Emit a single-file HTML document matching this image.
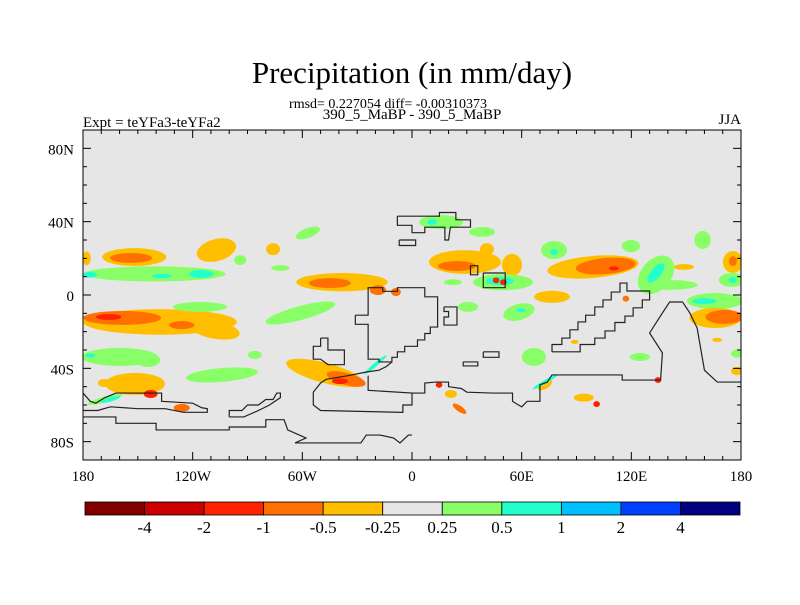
<!DOCTYPE html>
<html><head><meta charset="utf-8"><style>
body{margin:0;background:#fff;}
svg text{font-family:"Liberation Serif",serif;fill:#000;}
</style></head><body>
<svg id="chart" width="800" height="600" viewBox="0 0 800 600" xmlns="http://www.w3.org/2000/svg">
<rect width="800" height="600" fill="#fff"/>
<text x="412" y="83" font-size="31" text-anchor="middle">Precipitation (in mm/day)</text>
<text x="388" y="108" font-size="14" text-anchor="middle">rmsd= 0.227054 diff= -0.00310373</text>
<text x="412" y="119" font-size="15" text-anchor="middle">390_5_MaBP - 390_5_MaBP</text>
<text x="83" y="127" font-size="15">Expt = teYFa3-teYFa2</text>
<text x="741" y="124" font-size="15" text-anchor="end">JJA</text>
<defs><clipPath id="plotclip"><rect x="83" y="130" width="658" height="330"/></clipPath></defs>
<rect x="83" y="130" width="658" height="330" fill="#e6e6e6"/>
<g id="blobs" clip-path="url(#plotclip)"></g>
<g id="coast" clip-path="url(#plotclip)"></g>
<g id="ticks"></g>
<rect x="83" y="130" width="658" height="330" fill="none" stroke="#000" stroke-width="1"/>
<g id="colorbar"></g>
</svg>
<script>
const levelColors = ["#800000","#cc0000","#ff2200","#ff7000","#ffbf00","#e6e6e6","#88ff66","#22ffcc","#00bfff","#0040ff","#000080"];
const levelLabels = ["-4","-2","-1","-0.5","-0.25","0.25","0.5","1","2","4"];
const lonTicks = [-180,-120,-60,0,60,120,180];
const lonTickLabels = ["180","120W","60W","0","60E","120E","180"];
const latTicks = [80,40,0,-40,-80];
const latTickLabels = ["80N","40N","0","40S","80S"];
// anomaly blobs: lon, lat, radius lon, radius lat, level index, rotation
const blobLon = [-152,-178,-141,-107,-57,-76,-94,-72,-38.3,-137.8,-107.8,-116,-61,-160,-144.4,-104,-86,-151.5,-168.5,-47.6,-126,-168,15.9,38.3,41,29,54.7,49.8,22.4,76.6,58.5,30.6,77.7,99,119.8,133.5,141,148.8,159,175.6,175,165.7,166,66.7,124.7,177.8,177.8,72.7,94,21.3,89,167,-18.6,
 -153.7,-115.4,-176,-136.8,-45,-158.6,-126,-176,-36,-143,-165,11,24.6,48,106,133.5,175.6,175.3,160,171,77.7,59.5,-20,72.7,26,
 -166,-39.4,-21,-8.8,101,110.5,14.8,134.6,50,46,117];
const blobLat = [20.7,20,11.5,24.5,33.8,25,19,14.7,7,-14.7,-19,-6.5,-9.8,-33.8,-35.5,-43.6,-32.7,-48.5,-48,-42.5,-61.6,-57,39.8,34.4,25,18,16.4,7,7,-1,-9.3,-6.5,24.5,15.3,26.7,11,5.5,15.3,30,18,8.2,-3.3,-12.5,-33.8,-33.8,-32,-41.5,-49,-56,-54,-25.6,-24.5,2.7,
 20.2,11.5,11,10.4,6.5,-12.5,-16.4,-33,-45.8,-54,-57,39.8,15.8,7.6,15.8,12,18.5,8.2,-3.3,-12,23.5,-8.3,-38,-47.5,-62,
 -12,-47,2.2,1.6,-59.5,14.5,-49,-46.4,7,8,-2];
const blobRx = [17.5,2.2,39,11,7,3.8,3.3,5,25,42,13.7,14.8,19.7,20.8,6.6,19.7,3.8,16.4,3.3,21.9,4.4,9.8,12,7.1,3.8,19.7,5.5,16.4,5,9.8,8.8,5.5,7.1,25,5,12,15.3,5.5,4.4,5.5,7.1,15.3,14.2,6.6,5.5,3.3,3.3,4.4,5.5,3.3,2.2,2.7,4.4,
 11.5,6.6,3.8,5.5,11.5,21.3,7,2.7,11,3.8,5.5,2.7,10.4,7.7,16.4,6.6,2.2,2.2,6.6,10.4,2.2,2.7,8,7.7,4.4,
 7,4.4,2,2.7,1.8,2.7,1.8,1.8,1.8,1.8,1.8];
const blobRy = [4.9,3.8,4.1,6,2.7,3.3,2.7,1.6,5,7,4.9,2.7,3.8,4.9,3.8,3.8,2.2,6,2.2,5.5,2.2,1.6,3.8,2.7,3.3,6.5,6,4.4,1.6,3.3,4.4,2.7,4.9,6,3.3,8.2,2.7,1.6,4.9,6,3.8,4.4,5.5,4.9,2.2,2.2,2.2,2.2,2.2,2.2,1.1,1.1,2.7,
 2.7,2.2,1.6,1.1,2.7,3.8,2.2,1.1,3.3,2.2,1.1,1.6,2.7,2.2,4.4,2.7,2.7,1.6,1.6,3.8,1.6,1.1,1,1,1.6,
 1.6,1.6,1.6,2.2,1.6,1.1,1.6,1.6,1.6,1.6,1.6];
const blobLevel = [4,4,6,4,6,4,6,6,4,4,4,6,6,6,6,6,6,4,4,4,3,6,6,6,4,4,4,6,6,4,6,6,6,4,6,6,6,4,6,4,6,6,4,6,6,6,4,4,4,4,4,4,3,
 3,7,7,7,3,3,3,7,3,2,7,7,3,7,3,7,3,7,7,3,7,7,7,7,3,
 2,2,3,3,2,2,2,2,2,2,3];
const blobRot = [0,0,0,-15,-20,0,0,0,0,0,10,0,-15,0,0,-5,0,0,0,15,0,-15,0,0,0,0,0,0,0,0,-15,0,0,-5,0,-50,0,0,0,0,0,0,0,0,0,0,0,-30,0,0,0,0,0,
 0,0,0,0,0,0,0,0,15,0,-15,0,0,0,-5,-50,0,0,0,0,0,0,-40,-30,35,
 0,0,0,0,0,0,0,0,0,0,0];
// coastlines (lon, lat) polylines
const coastLines = [
 [[-8,43],[15,43],[15,45],[24,45],[24,41],[32,41],[32,37],[21,37],[20,30],[18,30],[18,37],[7,37],[7,34],[0,34],[0,38],[-8,38],[-8,43]],
 [[-7,30],[2,30],[2,27],[-7,27],[-7,30]],
 [[32,16],[36,16],[36,11],[32,11],[32,16]],
 [[39,12],[51,12],[51,4],[39,4],[39,12]],
 [[-31,-11],[-24,-11],[-24,4],[-16,4],[-16,2],[-8,2],[-8,4],[7,4],[7,-1],[14,-1],[14,-17.5],[10,-17.5],[10,-21],[7,-21],[7,-24.5],[3,-24.5],[3,-28],[-4,-28],[-4,-31],[-8,-31],[-8,-34],[-11,-34],[-11,-36.5],[-18,-36.5],[-18,-35],[-24,-35],[-24,-16],[-31,-16],[-31,-11]],
 [[-50,-23.5],[-46,-23.5],[-46,-30],[-37,-30],[-37,-38],[-46,-38],[-50,-35],[-54,-35],[-54,-28],[-50,-28],[-50,-23.5]],
 [[-11,-36.5],[-14,-39],[-18,-41],[-25,-42],[-35,-44],[-47,-46],[-50,-48],[-54,-53],[-54,-60],[-50,-63],[-5,-64],[-5,-60],[0,-60],[0,-53.5],[-24,-52],[-24,-44]],
 [[0,-53.5],[7,-53.5],[7,-48],[13,-47.5],[20,-47.5],[20,-50],[27,-51],[30,-53],[44,-53.5],[55,-53.5],[55,-58],[60,-61],[63,-58],[70,-58],[70,-49],[74,-47.5],[76.6,-43.6],[115,-43.6],[115,-46.4],[136,-46.4],[137,-31.6],[130,-20.7],[137,-9.8],[141,-3.8],[148,-3.8],[152,-9.8],[156,-18],[160,-41],[167,-47.5],[180,-47.5]],
 [[76.6,-31],[76.6,-27],[82,-27],[82,-23.5],[86.4,-23.5],[86.4,-19],[90.8,-19],[90.8,-14.7],[95,-14.7],[95,-11],[100,-11],[100,-6.5],[104.5,-6.5],[104.5,-2.7],[109,-2.7],[109,1.6],[113.8,1.6],[113.8,6.5],[117.6,6.5],[117.6,2.2],[130,2.2],[130,-2.7],[126,-2.7],[126,-7],[121,-7],[121,-11.5],[116.5,-11.5],[116.5,-15],[111,-15],[111,-19.6],[105.6,-19.6],[105.6,-23.5],[100,-23.5],[100,-27],[92,-27],[92,-31],[76.6,-31]],
 [[39,-31],[47.6,-31],[47.6,-34],[39,-34],[39,-31]],
 [[28,-36.5],[36,-36.5],[36,-38.7],[28,-38.7],[28,-36.5]],
 [[17.5,-6.5],[24.6,-6.5],[24.6,-16.4],[17.5,-16.4],[17.5,-12],[20,-12],[20,-9],[17.5,-9],[17.5,-6.5]],
 [[-180,-66.5],[-162,-66.5],[-162,-70],[-140,-70],[-140,-73.6],[-100,-73.6],[-100,-72],[-80,-72],[-80,-68],[-70,-68],[-68,-73.6],[-58,-78],[-64,-80.7],[-28,-80.7],[-25,-76.4],[-17.5,-76.4],[-10,-78],[-6.6,-80.7],[-2,-76.4],[0,-76.4]],
 [[-180,-53.5],[-176,-58],[-173,-59],[-168,-56],[-162,-53.5],[-137,-53.5],[-137,-58],[-120,-59],[-115,-61.5],[-112,-62],[-112,-64],[-118,-64],[-125,-64],[-135,-62],[-150,-62],[-165,-61],[-172,-63],[-180,-63]],
 [[-100,-66.5],[-100,-63],[-93,-63],[-90,-60],[-84,-60],[-80,-57],[-76,-57],[-74,-53.5],[-72,-53.5],[-72,-56],[-78,-60],[-84,-63],[-92,-66.5],[-100,-66.5]]
];
const NS="http://www.w3.org/2000/svg";
const X0=83, X1=741, Y0=130, Y1=460;
function xScale(lon){return X0+(lon+180)/360*(X1-X0);}
function yScale(lat){return Y0+(90-lat)/180*(Y1-Y0);}
function mk(tag,attrs,parent){const e=document.createElementNS(NS,tag);for(const k in attrs)e.setAttribute(k,attrs[k]);parent.appendChild(e);return e;}
const gB=document.getElementById('blobs');
for(let i=0;i<blobLon.length;i++){
 const cx=xScale(blobLon[i]), cy=yScale(blobLat[i]);
 const rx=xScale(blobRx[i])-xScale(0), ry=yScale(0)-yScale(blobRy[i]);
 const e=mk('ellipse',{cx:cx,cy:cy,rx:rx,ry:ry,fill:levelColors[blobLevel[i]],transform:'rotate('+blobRot[i]+' '+cx+' '+cy+')'},gB);
 
 
}
const gC=document.getElementById('coast');
coastLines.forEach(line=>{
 const p=mk('polyline',{points:line.map(q=>xScale(q[0])+','+yScale(q[1])).join(' '),fill:'none',stroke:'#222',"stroke-width":1.2},gC);
 
 
});
const gT=document.getElementById('ticks');
for(let lon=-180;lon<=180;lon+=10){
 const x=xScale(lon), major=lon%60===0, L=major?8:4;
 const t1=mk('line',{x1:x,x2:x,y1:Y1,y2:Y1-L,stroke:'#000'},gT);
 
 
 const t2=mk('line',{x1:x,x2:x,y1:Y0,y2:Y0+L,stroke:'#000'},gT);
 
 
}
for(let lat=-90;lat<=90;lat+=10){
 const y=yScale(lat), major=lat%40===0, L=major?8:4;
 const t1=mk('line',{x1:X0,x2:X0+L,y1:y,y2:y,stroke:'#000'},gT);
 
 
 const t2=mk('line',{x1:X1,x2:X1-L,y1:y,y2:y,stroke:'#000'},gT);
 
 
}
lonTicks.forEach((lon,i)=>{
 const t=mk('text',{x:xScale(lon),y:481,"font-size":15,"text-anchor":"middle"},gT);
 t.textContent=lonTickLabels[i];
 
 
});
latTicks.forEach((lat,i)=>{
 const t=mk('text',{x:74,y:yScale(lat)+6,"font-size":15,"text-anchor":"end"},gT);
 t.textContent=latTickLabels[i];
 
 
});
const gL=document.getElementById('colorbar');
const cbX=85, cbW=655/levelColors.length;
levelColors.forEach((c,i)=>{
 const r=mk('rect',{x:cbX+i*cbW,y:502,width:cbW,height:13,fill:c,stroke:'#000',"stroke-width":0.8},gL);
 
 
});
levelLabels.forEach((s,i)=>{
 const t=mk('text',{x:cbX+(i+1)*cbW,y:533,"font-size":17,"text-anchor":"middle"},gL);
 t.textContent=s;
 
 
});
</script>
</body></html>
